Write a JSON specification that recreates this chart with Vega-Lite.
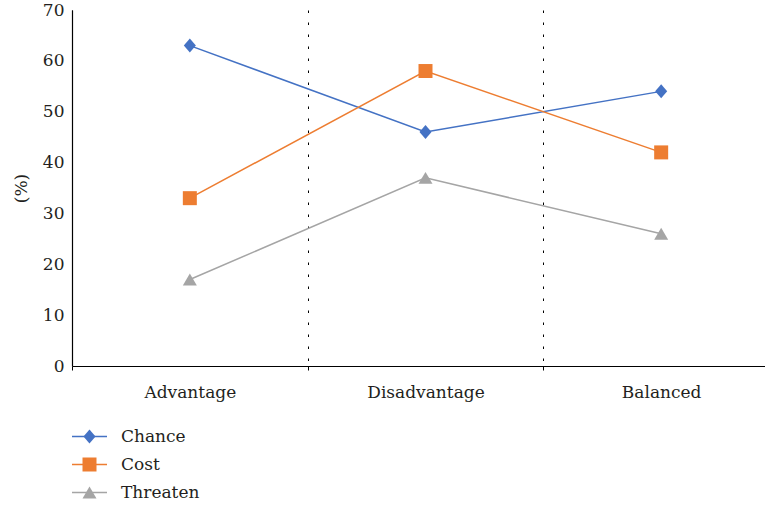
{
  "$schema": "https://vega.github.io/schema/vega-lite/v6.json",
  "width": 693,
  "height": 356,
  "autosize": "none",
  "padding": {"left": 72, "top": 10, "right": 0, "bottom": 142},
  "config": {"view": {"stroke": null}, "font": "DejaVu Serif"},
  "data": {"values": [
    {"category": "Advantage", "series": "Chance", "value": 63},
    {"category": "Advantage", "series": "Cost", "value": 33},
    {"category": "Advantage", "series": "Threaten", "value": 17},
    {"category": "Disadvantage", "series": "Chance", "value": 46},
    {"category": "Disadvantage", "series": "Cost", "value": 58},
    {"category": "Disadvantage", "series": "Threaten", "value": 37},
    {"category": "Balanced", "series": "Chance", "value": 54},
    {"category": "Balanced", "series": "Cost", "value": 42},
    {"category": "Balanced", "series": "Threaten", "value": 26}
  ]},
  "encoding": {
    "x": {
      "field": "category", "type": "nominal",
      "sort": ["Advantage", "Disadvantage", "Balanced"],
      "scale": {"type": "band", "paddingInner": 0, "paddingOuter": 0, "rangeMax": 707},
      "axis": {
        "title": null, "labelAngle": 0, "domainColor": "#000", "domainWidth": 1.2,
        "grid": true, "gridColor": "#000", "gridDash": [2.5, 9.5], "gridWidth": 1, "gridOpacity": 1,
        "tickBand": "extent", "tickColor": "#000", "tickSize": 4,
        "labelPadding": 14, "labelFontSize": 17, "labelColor": "#231f20"
      }
    },
    "y": {
      "field": "value", "type": "quantitative",
      "scale": {"domain": [0, 70], "nice": false},
      "axis": {
        "title": "(%)", "values": [0, 10, 20, 30, 40, 50, 60, 70],
        "ticks": false, "grid": false, "domainColor": "#000", "domainWidth": 1.2,
        "labelPadding": 8, "labelFontSize": 17, "labelColor": "#231f20",
        "titleFontSize": 17, "titleFontWeight": "normal", "titleColor": "#231f20",
        "titlePadding": 12
      }
    }
  },
  "layer": [
    {
      "mark": {"type": "line", "strokeWidth": 1.5},
      "encoding": {
        "stroke": {
          "field": "series", "type": "nominal",
          "scale": {"domain": ["Chance", "Cost", "Threaten"], "range": ["#4472C4", "#ED7D31", "#A5A5A5"]},
          "legend": {
            "title": null, "orient": "none", "legendX": 9, "legendY": 418, "direction": "vertical",
            "padding": 0, "labelOffset": 23, "rowPadding": 10,
            "labelFontSize": 17, "labelColor": "#231f20",
            "symbolType": "M-2.5,0H2.5", "symbolSize": 196, "symbolStrokeWidth": 1.5
          }
        }
      }
    },
    {
      "mark": {"type": "point", "filled": true, "opacity": 1, "size": 196},
      "encoding": {
        "fill": {
          "field": "series", "type": "nominal",
          "scale": {"range": ["#4472C4", "#ED7D31", "#A5A5A5"]},
          "legend": {
            "title": null, "orient": "none", "legendX": 9, "legendY": 418, "direction": "vertical",
            "padding": 0, "labelOffset": 23, "rowPadding": 10,
            "labelFontSize": 17, "labelOpacity": 0,
            "symbolSize": 196, "symbolStrokeWidth": 0
          }
        },
        "shape": {
          "field": "series", "type": "nominal",
          "scale": {"range": ["M0,-1L0.86,0L0,1L-0.86,0Z", "M-1,-1H1V1H-1Z", "M0,-0.85L1,0.85H-1Z"]},
          "legend": {
            "title": null, "orient": "none", "legendX": 9, "legendY": 418, "direction": "vertical",
            "padding": 0, "labelOffset": 23, "rowPadding": 10,
            "labelFontSize": 17, "labelOpacity": 0,
            "symbolSize": 196, "symbolStrokeWidth": 0
          }
        }
      }
    }
  ]
}
